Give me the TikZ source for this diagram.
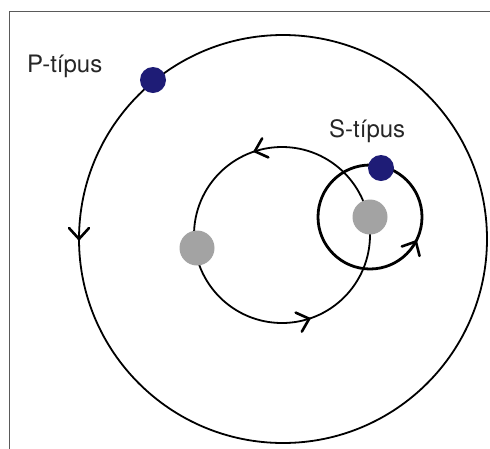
\documentclass[tikz,border=0pt]{standalone}
\usepackage{fontspec}
\setmainfont{TeX Gyre Heros}
\usetikzlibrary{decorations.markings}
\definecolor{starblue}{RGB}{30,28,118}
\definecolor{stargray}{RGB}{163,163,163}
\definecolor{framegray}{RGB}{90,90,90}
\tikzset{
  orbit/.style={draw=black,line width=1.8pt},
  thickorbit/.style={draw=black,line width=2.8pt},
  % open V-shaped barb drawn along the path direction
  arrowat/.style={postaction={decorate,decoration={markings,
      mark=at position #1 with {\draw[black,line width=2.6pt,line cap=round,line join=miter]
        (-11,10) -- (0,0) -- (-11,-10);}}}},
  planet/.style={circle,fill=starblue,minimum size=26pt,inner sep=0pt},
  star/.style={circle,fill=stargray,minimum size=35pt,inner sep=0pt},
  label/.style={anchor=base west,font=\fontsize{24}{28}\selectfont,text=black!85,inner sep=0pt}
}
\begin{document}
\begin{tikzpicture}[x=1pt,y=-1pt]
  \clip (0,0) rectangle (490,448);
  \fill[white] (0,0) rectangle (490,448);
  % frame, open to the right and bottom
  \draw[framegray,line width=1pt] (9.5,500) -- (9.5,11.5) -- (500,11.5);

  % outer P-type orbit around both stars
  \draw[orbit,arrowat=0.5] (283+204,239) arc[start angle=360,end angle=0,radius=204];
  % binary orbit of the two stars
  \draw[orbit,arrowat=0.3,arrowat=0.8] (282+88,235) arc[start angle=360,end angle=0,radius=88];
  % S-type orbit around one star
  \draw[thickorbit,arrowat=0.922] (370+52,217) arc[start angle=360,end angle=0,radius=52];

  % stars and planets
  \node[star] (starA) at (197,248) {};
  \node[star] (starB) at (370,217) {};
  \node[planet] (planetP) at (153,80) {};
  \node[planet] (planetS) at (381,168) {};

  % labels
  \node[label] (labP) at (27,72) {P-típus};
  \node[label] (labS) at (329,137) {S-típus};
\end{tikzpicture}
\end{document}
